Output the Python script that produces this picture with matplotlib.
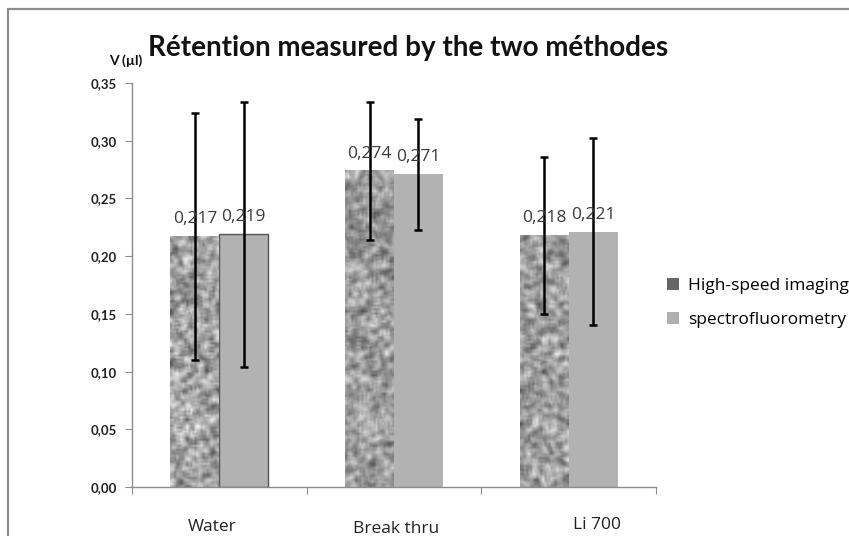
import numpy as np
import matplotlib
matplotlib.use("Agg")
import matplotlib.pyplot as plt
import matplotlib.transforms as mtransforms
from matplotlib.patches import Rectangle, Patch

# data
categories = ["Water", "Break thru", "Li 700"]
highspeed = [0.217, 0.274, 0.218]
spectro = [0.219, 0.271, 0.221]
highspeed_err = [0.107, 0.060, 0.068]
spectro_err = [0.115, 0.048, 0.081]
yticks = [0.00, 0.05, 0.10, 0.15, 0.20, 0.25, 0.30, 0.35]

plt.rcParams["font.family"] = ["Lato", "DejaVu Sans"]
label_font = ["Open Sans", "DejaVu Sans"]

fig = plt.figure(figsize=(8.49, 5.36), dpi=100)
ax = fig.add_axes([0.1555, 0.0914, 0.6172, 0.7536])

# grey frame around the chart area
fig.patches.append(Rectangle((8 / 849, -0.1), 1.2, (527 / 536) + 0.1, transform=fig.transFigure,
                             fill=False, edgecolor="#8c8c8c", linewidth=1.6))

x = np.arange(len(categories))
w = 0.28
b1 = ax.bar(x - w / 2, highspeed, w, color="#8f8f8f", zorder=2)
b2 = ax.bar(x + w / 2, spectro, w, color="#b2b2b2", zorder=2)
# thin outline on the first spectro bar, like the original
b2[0].set_edgecolor("#555555")
b2[0].set_linewidth(1.0)

# speckled grey texture on the high-speed bars (decoration only)
rng = np.random.default_rng(7)
for p in b1:
    cols = 24
    rows = int(round(p.get_height() / 0.35 * 404 / 2.0))
    noise = rng.random((rows + 2, cols + 2))
    sm = sum(noise[i:i + rows, j:j + cols] for i in range(3) for j in range(3)) / 9.0
    sm = (sm - sm.min()) / (sm.max() - sm.min())
    img = 0.30 + 0.65 * sm
    ax.imshow(img, cmap="gray", vmin=0, vmax=1, aspect="auto", interpolation="bilinear",
              extent=(p.get_x(), p.get_x() + p.get_width(), 0, p.get_height()), zorder=2.5)

ax.errorbar(x - w / 2, highspeed, yerr=highspeed_err, fmt="none", ecolor="black",
            elinewidth=1.8, capsize=3, capthick=1.8, zorder=4)
ax.errorbar(x + w / 2, spectro, yerr=spectro_err, fmt="none", ecolor="black",
            elinewidth=1.8, capsize=3, capthick=1.8, zorder=4)

for bars, vals in ((b1, highspeed), (b2, spectro)):
    for p, v in zip(bars, vals):
        ax.text(p.get_x() + p.get_width() / 2, v + 0.008, f"{v:.3f}".replace(".", ","),
                ha="center", va="bottom", fontsize=12.5, color="#3a3a3a",
                family=label_font, zorder=5)

ax.set_xlim(-0.5, 2.5)
ax.set_ylim(0, 0.35)
ax.set_yticks(yticks)
ax.set_yticklabels([f"{t:.2f}".replace(".", ",") for t in yticks], fontsize=9.5, fontweight="bold",
                   color="#222222")
ax.set_xticks([-0.5, 0.5, 1.5, 2.5])
ax.set_xticklabels([])
ax.set_xticks(x, minor=True)
ax.set_xticklabels(categories, minor=True, fontsize=12.5, color="#222222", family=label_font)
ax.tick_params(axis="x", which="major", direction="out", length=5, color="#8c8c8c")
ax.tick_params(axis="x", which="minor", length=0, pad=24)
ax.tick_params(axis="y", direction="out", length=5, color="#8c8c8c", pad=6)
# the category labels sit a little off-centre in the original
shifts = [(-7, 1), (2, -1), (28, 3)]
for lab, (dx, dy) in zip(ax.get_xticklabels(minor=True), shifts):
    lab.set_transform(lab.get_transform() + mtransforms.ScaledTranslation(dx / 100, dy / 100,
                                                                           fig.dpi_scale_trans))
for s in ("top", "right"):
    ax.spines[s].set_visible(False)
for s in ("left", "bottom"):
    ax.spines[s].set_color("#8c8c8c")
    ax.spines[s].set_linewidth(1.0)

fig.text(0.174, 0.910, "Rétention measured by the two méthodes", fontsize=20, fontweight="bold",
         ha="left", va="center", color="#111111")
fig.text(0.128, 0.886, "V (µl)", fontsize=10, fontweight="bold", ha="left", va="center",
         color="#111111")

handles = [Patch(facecolor="#666666", edgecolor="none", label="High-speed imaging"),
           Patch(facecolor="#b0b0b0", edgecolor="none", label="spectrofluorometry")]
fig.legend(handles=handles, loc="center left", bbox_to_anchor=(0.767, 0.435), frameon=False,
           handlelength=0.7, handleheight=0.7, handletextpad=0.5,
           labelspacing=1.0, prop={"family": label_font, "size": 12.5})

fig.savefig("out.png", dpi=100)
